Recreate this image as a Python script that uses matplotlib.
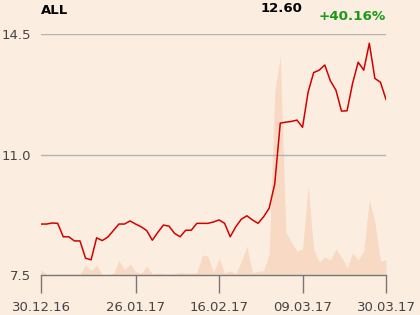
import matplotlib
matplotlib.use("Agg")
import matplotlib.pyplot as plt
import numpy as np

ticker = "ALL"
last_price = "12.60"
change = "+40.16%"

price = [8.98, 8.98, 9.01, 9.00, 8.61, 8.61, 8.49, 8.49, 7.99, 7.94,
         8.58, 8.50, 8.60, 8.79, 8.98, 8.98, 9.07, 8.98, 8.90, 8.79,
         8.51, 8.74, 8.95, 8.92, 8.71, 8.61, 8.80, 8.80, 9.00, 9.00,
         9.00, 9.04, 9.10, 9.00, 8.61, 8.90, 9.12, 9.22, 9.10, 9.00,
         9.19, 9.44, 10.14, 11.91, 11.94, 11.96, 12.00, 11.79, 12.81, 13.38,
         13.45, 13.60, 13.14, 12.87, 12.26, 12.27, 13.07, 13.68, 13.45, 14.23,
         13.21, 13.10, 12.60]

volume = [5.5, 0.5, 1, 1, 1, 1, 1, 1, 10, 4.5,
          10, 0.5, 0.5, 1.5, 14.5, 5.5, 11, 3.5, 1.5, 9,
          1, 2, 1.5, 1, 1.5, 2.5, 2, 2, 2.5, 20,
          19, 2.5, 17, 2, 4, 1.5, 13.5, 29, 2.5, 3.5,
          4.5, 21, 184, 219, 43, 33, 24, 26, 89, 26,
          13, 18, 15, 26, 18, 7, 22, 15, 24, 75,
          53, 14, 15]

tick_pos = [0, 17, 32, 47, 62]
tick_labels = ["30.12.16", "26.01.17", "16.02.17", "09.03.17", "30.03.17"]
y_ticks = [7.5, 11.0, 14.5]

bg = "#fcede1"
area_c = "#f8dac4"
line_c = "#d40000"

fig = plt.figure(figsize=(4.2, 3.15), dpi=100, facecolor=bg)
ax = fig.add_axes([41/420, 1 - 275/315, (386-41)/420, (275-34)/315])
axv = ax.twinx()
axv.set_zorder(ax.get_zorder() - 1)
ax.patch.set_visible(False)
axv.patch.set_facecolor(bg)

x = np.arange(len(price))
axv.fill_between(x, 0, volume, color=area_c, lw=0)
axv.set_ylim(0, 241)
axv.set_yticks([])
for s in axv.spines.values():
    s.set_visible(False)

ax.plot(x, price, color=line_c, lw=1.1, zorder=3)
ax.set_xlim(0, len(price) - 1)
ax.set_ylim(7.5, 14.5)
ax.set_yticks(y_ticks)
ax.set_yticklabels([f"{v:.1f}" for v in y_ticks])
for v in y_ticks[1:]:
    ax.axhline(v, color="#b3b3b3", lw=1.0, zorder=1)
ax.tick_params(axis="y", length=0, pad=7, labelsize=9.5, labelcolor="#444444")
ax.set_xticks(tick_pos)
ax.set_xticklabels(tick_labels)
ax.tick_params(axis="x", length=13, width=1, color="#777777", pad=6,
               labelsize=9.5, labelcolor="#444444")
for k in ["left", "right", "top"]:
    ax.spines[k].set_visible(False)
ax.spines["bottom"].set_color("#777777")
ax.spines["bottom"].set_linewidth(1)

fig.text(41/420, 1 - 10.5/315, ticker, fontsize=9.5, fontweight="bold",
         ha="left", va="center", color="black")
fig.text(302/420, 1 - 9/315, last_price, fontsize=9.5, fontweight="bold",
         ha="right", va="center", color="black")
fig.text(385.5/420, 1 - 16/315, change, fontsize=9.7, fontweight="bold",
         ha="right", va="center", color="#1a9a1a")

fig.savefig("out.png", dpi=100, facecolor=bg)
